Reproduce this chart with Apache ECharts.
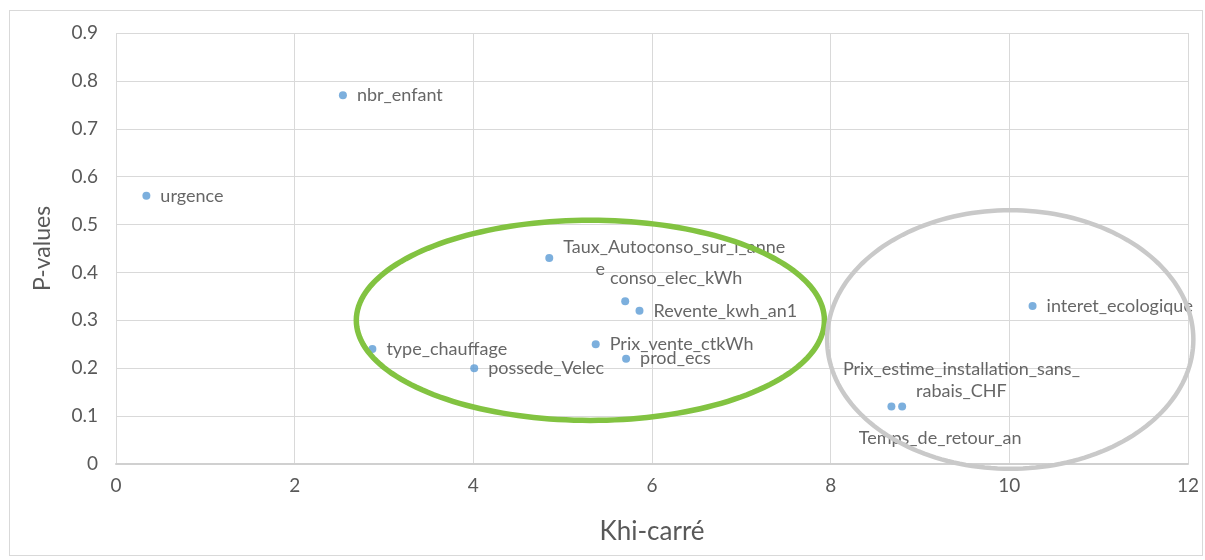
<!DOCTYPE html>
<html>
<head>
<meta charset="utf-8">
<script src="https://cdn.jsdelivr.net/npm/echarts@6/dist/echarts.min.js"></script>
<style>
html,body{margin:0;padding:0;background:#fff;}
#frame{position:absolute;left:9px;top:10px;width:1194px;height:546px;border:1px solid #d9d9d9;box-sizing:border-box;}
#chart{position:absolute;left:0;top:0;width:1205px;height:560px;}
</style>
</head>
<body>
<div id="frame"></div>
<div id="chart"></div>
<script>
// ---- data ----
const names = ["urgence","nbr_enfant","Taux_Autoconso_sur_l_anne\n       e","conso_elec_kWh","Revente_kwh_an1","Prix_vente_ctkWh","prod_ecs","type_chauffage","possede_Velec","interet_ecologique","Prix_estime_installation_sans_\nrabais_CHF","Temps_de_retour_an"];
const khiCarre = [0.34, 2.54, 4.85, 5.70, 5.86, 5.37, 5.71, 2.87, 4.01, 10.26, 8.68, 8.80];
const pValues  = [0.56, 0.77, 0.43, 0.34, 0.32, 0.25, 0.22, 0.24, 0.20, 0.33, 0.12, 0.12];
const xTicks = [0, 2, 4, 6, 8, 10, 12];
const yTicks = [0, 0.1, 0.2, 0.3, 0.4, 0.5, 0.6, 0.7, 0.8, 0.9];
// annotation ellipses (data units): centre x, centre y, radius x, radius y
const groupEllipses = [
  {cx: 5.31, cy: 0.30, rx: 2.62, ry: 0.209, color: "#82c341", width: 5.5},
  {cx: 10.01, cy: 0.26, rx: 2.05, ry: 0.27, color: "#c9c9c9", width: 4.5}
];
// label placements (layout only)
const labelPlacement = [
  {position: "right"},
  {position: "right"},
  {position: "right"},
  {position: "top", offset: [51, 2]},
  {position: "right"},
  {position: "right"},
  {position: "right"},
  {position: "right"},
  {position: "right"},
  {position: "right"},
  {position: "top", offset: [70, 10], align: "center"},
  {position: "bottom", offset: [38, 7]}
];

const chart = echarts.init(document.getElementById('chart'), null, {renderer: 'canvas'});
const font = "Lato, 'Open Sans', sans-serif";
const data = names.map((n, i) => ({
  value: [khiCarre[i], pValues[i]],
  name: n,
  label: Object.assign({}, labelPlacement[i])
}));

const option = {
  animation: false,
  backgroundColor: 'transparent',
  grid: {left: 116, right: 17, top: 33, bottom: 96, containLabel: false},
  xAxis: {
    type: 'value', min: xTicks[0], max: xTicks[xTicks.length - 1], interval: 2,
    name: 'Khi-carré', nameLocation: 'middle', nameGap: 55,
    nameTextStyle: {fontSize: 26, color: '#595959', fontFamily: font},
    axisLine: {show: true, lineStyle: {color: '#d0d0d0', width: 2}},
    axisTick: {show: false},
    axisLabel: {fontSize: 19, color: '#595959', fontFamily: font, margin: 12},
    splitLine: {show: true, lineStyle: {color: '#d9d9d9', width: 1}}
  },
  yAxis: {
    type: 'value', min: yTicks[0], max: yTicks[yTicks.length - 1], interval: 0.1,
    name: 'P-values', nameLocation: 'middle', nameGap: 62,
    nameTextStyle: {fontSize: 23, color: '#595959', fontFamily: font},
    axisLine: {show: false},
    axisTick: {show: false},
    axisLabel: {fontSize: 19, color: '#595959', fontFamily: font, margin: 18,
      formatter: v => (Math.round(v * 10) / 10).toString()},
    splitLine: {show: true, lineStyle: {color: '#d9d9d9', width: 1}}
  },
  series: [{
    type: 'scatter',
    symbolSize: 8,
    itemStyle: {color: '#5b9bd5'},
    label: {show: true, formatter: '{b}', fontSize: 18, color: '#404040',
      fontFamily: font, distance: 10, lineHeight: 22},
    data: data,
    z: 5
  }]
};
chart.setOption(option);

function drawEllipses() {
  const elems = groupEllipses.map(e => {
    const c = chart.convertToPixel({gridIndex: 0}, [e.cx, e.cy]);
    const px = chart.convertToPixel({gridIndex: 0}, [e.cx + e.rx, e.cy + e.ry]);
    const rx = Math.abs(px[0] - c[0]);
    const ry = Math.abs(px[1] - c[1]);
    const pts = [];
    for (let k = 0; k < 180; k++) {
      const t = k / 180 * Math.PI * 2;
      pts.push([c[0] + rx * Math.cos(t), c[1] + ry * Math.sin(t)]);
    }
    return {
      type: 'polygon',
      shape: {points: pts},
      style: {fill: 'none', stroke: e.color, lineWidth: e.width},
      silent: true, z: 10
    };
  });
  chart.setOption({graphic: {elements: elems}});
}
drawEllipses();
</script>
</body>
</html>
